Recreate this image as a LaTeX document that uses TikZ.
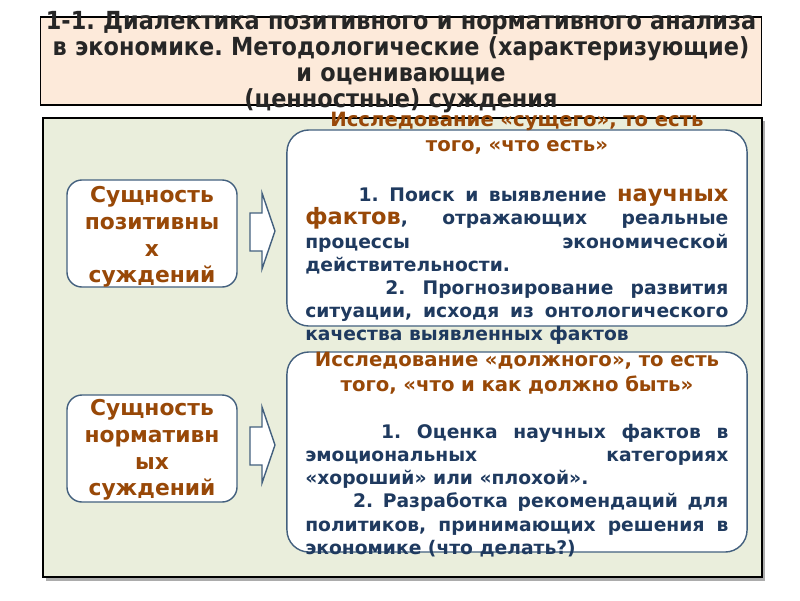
\documentclass[tikz,border=0pt]{standalone}
\usepackage{fontspec}
\setmainfont{DejaVu Sans}
\newfontfamily\titlefont[FakeStretch=0.9]{DejaVu Sans}
\frenchspacing
\definecolor{headbrown}{HTML}{984807}
\definecolor{bodyblue}{HTML}{1F3A5F}
\definecolor{edgeblue}{HTML}{43607E}
\definecolor{panelbg}{HTML}{EAEEDC}
\definecolor{titlebg}{HTML}{FDEADA}
\tikzset{
  titlebox/.style={draw=black, fill=titlebg, line width=0.8pt, inner sep=0pt},
  panel/.style={draw=black, fill=panelbg, line width=1.5pt, inner sep=0pt},
  namebox/.style={draw=edgeblue, fill=white, line width=1pt, rounded corners=0.375cm, inner sep=0pt},
  infobox/.style={draw=edgeblue, fill=white, line width=1pt, rounded corners=0.55cm, inner sep=0pt},
  blockarrow/.style={draw=edgeblue, fill=white, line width=1pt, line join=miter},
  titletext/.style={font=\titlefont\bfseries\fontsize{17.7}{18.5}\selectfont, text=black!85, align=center, text width=18.5cm, inner sep=0pt},
  nametext/.style={font=\bfseries\fontsize{15.5}{19}\selectfont, text=headbrown, align=center, text width=4.25cm, inner sep=0pt},
  headtext/.style={font=\bfseries\fontsize{14}{17.8}\selectfont, text=headbrown, align=center, text width=11.5cm, inner sep=0pt},
  bodytext/.style={font=\bfseries\fontsize{13.3}{16.5}\selectfont, text=bodyblue, align=justify, text width=10.575cm, inner sep=0pt}
}
\newcommand{\keyw}[1]{{\color{headbrown}\fontsize{16}{16.5}\selectfont #1}}
\begin{document}
\begin{tikzpicture}[x=0.025cm, y=-0.025cm]
    \useasboundingbox (0,0) rectangle (800,600);

    % Title
    \node[titlebox, minimum width=18cm, minimum height=2.2cm] (ttl) at (401,61) {};
    \node[titletext, anchor=base] (ttltxt) at (401,29)
      {1-1. Диалектика позитивного и нормативного анализа\\
       в экономике. Методологические (характеризующие)\\
       и оценивающие\\
       (ценностные) суждения};

    % Panel
    \fill[gray!65] (46,121) rectangle (765,581);
    \node[panel, minimum width=17.975cm, minimum height=11.475cm] (pnl) at (402.5,347.5) {};

    % Row 1: positive
    \node[namebox, minimum width=4.25cm, minimum height=2.675cm] (posbox) at (152,233.5) {};
    \node[nametext, anchor=base] (posname) at (152,202.7)
      {Сущность\\позитивны\\х\\суждений};
    \draw[blockarrow] (250,213) -- (262,213) -- (262,193) -- (275,231)
      -- (262,269) -- (262,251) -- (250,251) -- cycle;
    \node[infobox, minimum width=11.5cm, minimum height=4.9cm] (posinfo) at (517,228) {};
    \node[headtext, anchor=base] (poshead) at (517,126.7)
      {Исследование «сущего», то есть\\того, «что есть»};
    \node[bodytext, anchor=base west] (postxt) at (305,201.7)
      {\hspace*{38pt}1. Поиск и выявление \keyw{научных}\linebreak
       \keyw{фактов}, отражающих реальные\linebreak
       процессы экономической\linebreak
       действительности.\par
       \hspace*{57pt}2. Прогнозирование развития\linebreak
       ситуации, исходя из онтологического\linebreak
       качества выявленных фактов\par};

    % Row 2: normative
    \node[namebox, minimum width=4.25cm, minimum height=2.675cm] (normbox) at (152,448.5) {};
    \node[nametext, anchor=base] (normname) at (152,415.7)
      {Сущность\\нормативн\\ых\\суждений};
    \draw[blockarrow] (250,427) -- (262,427) -- (262,407) -- (275,445)
      -- (262,483) -- (262,465) -- (250,465) -- cycle;
    \node[infobox, minimum width=11.5cm, minimum height=5cm] (norminfo) at (517,452) {};
    \node[headtext, anchor=base] (normhead) at (517,366)
      {Исследование «должного», то есть\\того, «что и как должно быть»};
    \node[bodytext, anchor=base west] (normtxt) at (305,438.3)
      {\hspace*{54pt}1. Оценка научных фактов в\linebreak
       эмоциональных категориях\linebreak
       «хороший» или «плохой».\par
       \hspace*{34pt}2. Разработка рекомендаций для\linebreak
       политиков, принимающих решения в\linebreak
       экономике (что делать?)\par};
\end{tikzpicture}
\end{document}
